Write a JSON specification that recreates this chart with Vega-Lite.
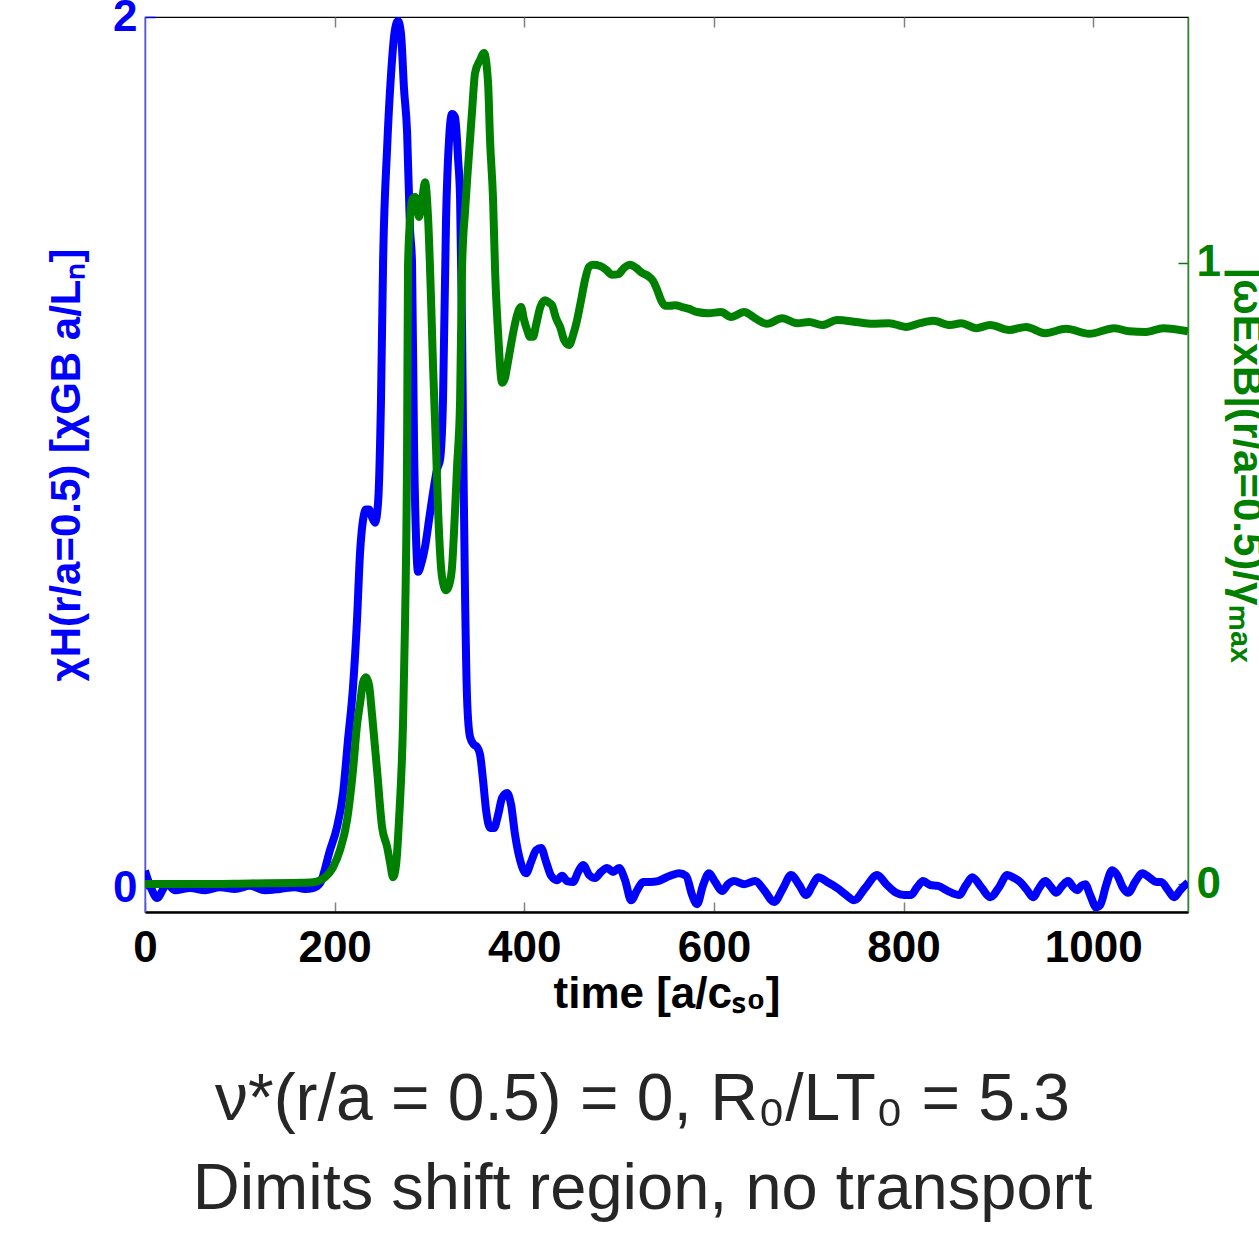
{
  "$schema": "https://vega.github.io/schema/vega-lite/v6.json",
  "width": 1043,
  "height": 895,
  "autosize": {"type": "none"},
  "padding": {"left": 145, "top": 17, "right": 71, "bottom": 321},
  "background": "white",
  "config": {"view": {"stroke": "black", "strokeWidth": 1.2}, "font": "Liberation Sans"},
  "title": {
    "text": "ν*(r/a = 0.5) = 0, R₀/LT₀ = 5.3",
    "subtitle": "Dimits shift region, no transport",
    "orient": "bottom",
    "anchor": "middle",
    "dx": -24,
    "offset": 52,
    "font": "Liberation Sans",
    "fontSize": 66,
    "fontWeight": "normal",
    "color": "#262626",
    "subtitleFont": "Liberation Sans",
    "subtitleFontSize": 65,
    "subtitleColor": "#262626",
    "subtitlePadding": 24
  },
  "datasets": {
    "chi": [
      {"t":0,"v":0.04},{"t":1.1,"v":0.032},{"t":7.4,"v":-0.005},{"t":12.7,"v":-0.023},{"t":23.2,"v":0.009},{"t":31.6,"v":-0.005},{"t":47.5,"v":0},{"t":63.3,"v":-0.005},{"t":79.1,"v":0.002},{"t":94.9,"v":-0.002},{"t":110.8,"v":0.005},{"t":126.6,"v":-0.005},{"t":142.4,"v":-0.002},{"t":158.2,"v":0.002},{"t":168.8,"v":-0.002},{"t":177.2,"v":0.0},{"t":184.6,"v":0.011},{"t":195.1,"v":0.087},{"t":202.5,"v":0.14},{"t":208.9,"v":0.218},{"t":214.1,"v":0.34},{"t":219.4,"v":0.462},{"t":223.6,"v":0.616},{"t":226.8,"v":0.77},{"t":230.0,"v":0.846},{"t":233.1,"v":0.869},{"t":236.3,"v":0.869},{"t":239.5,"v":0.851},{"t":242.6,"v":0.839},{"t":245.8,"v":0.885},{"t":248.9,"v":1.122},{"t":251.1,"v":1.437},{"t":255.3,"v":1.697},{"t":259.5,"v":1.869},{"t":263.7,"v":1.972},{"t":266.9,"v":1.991},{"t":270.0,"v":1.961},{"t":273.2,"v":1.834},{"t":276.4,"v":1.736},{"t":279.5,"v":1.513},{"t":281.6,"v":1.437},{"t":283.8,"v":1.007},{"t":285.9,"v":0.8},{"t":288.0,"v":0.726},{"t":291.1,"v":0.743},{"t":295.4,"v":0.784},{"t":299.6,"v":0.846},{"t":303.8,"v":0.908},{"t":308.0,"v":0.961},{"t":311.2,"v":0.984},{"t":314.3,"v":1.122},{"t":317.5,"v":1.536},{"t":320.7,"v":1.72},{"t":323.8,"v":1.777},{"t":327.0,"v":1.77},{"t":330.2,"v":1.674},{"t":332.3,"v":1.582},{"t":334.4,"v":1.283},{"t":335.4,"v":1.046},{"t":337.6,"v":0.662},{"t":339.7,"v":0.432},{"t":342.8,"v":0.347},{"t":347.0,"v":0.329},{"t":350.2,"v":0.324},{"t":353.4,"v":0.306},{"t":356.5,"v":0.248},{"t":359.7,"v":0.179},{"t":363.9,"v":0.138},{"t":368.1,"v":0.138},{"t":372.4,"v":0.168},{"t":376.6,"v":0.207},{"t":381.9,"v":0.218},{"t":386.1,"v":0.191},{"t":390.3,"v":0.122},{"t":395.6,"v":0.064},{"t":401.9,"v":0.034},{"t":407.2,"v":0.06},{"t":412.4,"v":0.087},{"t":417.7,"v":0.092},{"t":423.0,"v":0.06},{"t":428.3,"v":0.028},{"t":434.6,"v":0.018},{"t":439.9,"v":0.028},{"t":445.1,"v":0.016},{"t":451.5,"v":0.014},{"t":456.8,"v":0.037},{"t":462.0,"v":0.053},{"t":468.4,"v":0.03},{"t":474.7,"v":0.023},{"t":481.0,"v":0.037},{"t":487.3,"v":0.046},{"t":493.7,"v":0.037},{"t":500.0,"v":0.046},{"t":506.3,"v":0.018},{"t":512.7,"v":-0.028},{"t":519.0,"v":-0.005},{"t":525.3,"v":0.014},{"t":532.7,"v":0.014},{"t":541.1,"v":0.016},{"t":548.5,"v":0.023},{"t":555.9,"v":0.03},{"t":563.3,"v":0.034},{"t":570.7,"v":0.028},{"t":577.0,"v":-0.016},{"t":582.3,"v":-0.037},{"t":588.6,"v":0.007},{"t":594.9,"v":0.034},{"t":601.3,"v":0.014},{"t":608.6,"v":-0.007},{"t":615.0,"v":0.009},{"t":621.3,"v":0.016},{"t":631.9,"v":0.009},{"t":643.5,"v":0.016},{"t":653.0,"v":-0.005},{"t":663.5,"v":-0.032},{"t":673.0,"v":0.0},{"t":681.4,"v":0.03},{"t":689.9,"v":0.007},{"t":697.3,"v":-0.016},{"t":703.6,"v":0.005},{"t":709.9,"v":0.025},{"t":719.4,"v":0.014},{"t":730.0,"v":0.0},{"t":739.5,"v":-0.016},{"t":747.9,"v":-0.028},{"t":759.5,"v":0.0},{"t":772.2,"v":0.03},{"t":781.6,"v":0.009},{"t":792.2,"v":-0.011},{"t":800.6,"v":-0.016},{"t":808.0,"v":-0.016},{"t":814.3,"v":0.002},{"t":820.7,"v":0.016},{"t":828.1,"v":0.007},{"t":836.5,"v":0.005},{"t":847.0,"v":-0.007},{"t":858.6,"v":-0.016},{"t":866.0,"v":0.007},{"t":872.4,"v":0.025},{"t":881.9,"v":0.002},{"t":891.4,"v":-0.021},{"t":900.8,"v":0.002},{"t":909.3,"v":0.03},{"t":916.7,"v":0.023},{"t":923.0,"v":0.014},{"t":930.4,"v":-0.005},{"t":936.7,"v":-0.021},{"t":943.0,"v":0.0},{"t":949.4,"v":0.016},{"t":955.7,"v":0.002},{"t":961.0,"v":-0.011},{"t":967.3,"v":0.005},{"t":973.6,"v":0.016},{"t":978.9,"v":0.002},{"t":983.1,"v":-0.005},{"t":987.3,"v":0.005},{"t":991.6,"v":0.009},{"t":996.8,"v":-0.016},{"t":1003.2,"v":-0.044},{"t":1007.4,"v":-0.039},{"t":1013.7,"v":0.007},{"t":1020.0,"v":0.041},{"t":1025.3,"v":0.03},{"t":1031.6,"v":0.0},{"t":1036.9,"v":-0.011},{"t":1044.3,"v":0.014},{"t":1051.7,"v":0.034},{"t":1060.1,"v":0.023},{"t":1066.5,"v":0.014},{"t":1071.7,"v":0.014},{"t":1079.1,"v":-0.005},{"t":1085.4,"v":-0.021},{"t":1091.8,"v":-0.005},{"t":1098.1,"v":0.009},{"t":1100,"v":0.012}
    ],
    "omega": [
      {"t":0,"v":0.0},{"t":58,"v":0.0},{"t":110.8,"v":0.001},{"t":163.5,"v":0.002},{"t":177.2,"v":0.003},{"t":184.6,"v":0.006},{"t":189.9,"v":0.011},{"t":198.3,"v":0.027},{"t":205.7,"v":0.055},{"t":213.1,"v":0.103},{"t":219.4,"v":0.184},{"t":223.6,"v":0.256},{"t":226.8,"v":0.291},{"t":230.0,"v":0.325},{"t":233.1,"v":0.333},{"t":236.3,"v":0.32},{"t":239.5,"v":0.272},{"t":244.7,"v":0.184},{"t":250.0,"v":0.092},{"t":255.3,"v":0.06},{"t":258.4,"v":0.035},{"t":261.6,"v":0.011},{"t":264.8,"v":0.031},{"t":267.9,"v":0.103},{"t":272.2,"v":0.264},{"t":274.3,"v":0.425},{"t":276.4,"v":0.699},{"t":277.4,"v":0.994},{"t":279.5,"v":1.069},{"t":281.6,"v":1.101},{"t":284.8,"v":1.106},{"t":286.9,"v":1.093},{"t":289.0,"v":1.074},{"t":292.2,"v":1.101},{"t":295.4,"v":1.13},{"t":298.5,"v":1.074},{"t":301.7,"v":0.94},{"t":303.8,"v":0.833},{"t":307.0,"v":0.699},{"t":309.1,"v":0.602},{"t":313.3,"v":0.494},{"t":317.5,"v":0.473},{"t":320.7,"v":0.481},{"t":323.8,"v":0.51},{"t":327.0,"v":0.602},{"t":329.1,"v":0.671},{"t":332.3,"v":0.779},{"t":334.4,"v":0.994},{"t":337.6,"v":1.085},{"t":340.7,"v":1.155},{"t":345.0,"v":1.246},{"t":348.1,"v":1.306},{"t":353.4,"v":1.327},{"t":357.6,"v":1.338},{"t":361.8,"v":1.29},{"t":363.9,"v":1.198},{"t":367.1,"v":1.101},{"t":369.2,"v":0.989},{"t":372.4,"v":0.887},{"t":376.6,"v":0.807},{"t":379.7,"v":0.815},{"t":381.9,"v":0.833},{"t":385.0,"v":0.86},{"t":388.2,"v":0.887},{"t":392.4,"v":0.916},{"t":396.6,"v":0.929},{"t":399.8,"v":0.908},{"t":403.0,"v":0.892},{"t":406.1,"v":0.881},{"t":409.3,"v":0.881},{"t":412.4,"v":0.9},{"t":416.7,"v":0.928},{"t":421.9,"v":0.94},{"t":426.2,"v":0.936},{"t":429.3,"v":0.932},{"t":433.5,"v":0.911},{"t":437.8,"v":0.897},{"t":442.0,"v":0.876},{"t":447.3,"v":0.868},{"t":451.5,"v":0.884},{"t":455.7,"v":0.908},{"t":459.9,"v":0.94},{"t":464.1,"v":0.973},{"t":468.4,"v":0.994},{"t":472.6,"v":0.997},{"t":480.0,"v":0.995},{"t":486.3,"v":0.989},{"t":492.6,"v":0.981},{"t":499.0,"v":0.982},{"t":505.3,"v":0.992},{"t":511.6,"v":0.997},{"t":517.9,"v":0.992},{"t":524.3,"v":0.984},{"t":530.6,"v":0.979},{"t":535.9,"v":0.971},{"t":540.1,"v":0.957},{"t":544.3,"v":0.94},{"t":548.5,"v":0.931},{"t":553.8,"v":0.931},{"t":559.1,"v":0.932},{"t":566.5,"v":0.929},{"t":573.8,"v":0.926},{"t":582.3,"v":0.921},{"t":593.9,"v":0.919},{"t":607.6,"v":0.921},{"t":618.1,"v":0.913},{"t":631.9,"v":0.921},{"t":643.5,"v":0.911},{"t":656.1,"v":0.902},{"t":671.9,"v":0.911},{"t":687.8,"v":0.903},{"t":700.4,"v":0.905},{"t":714.1,"v":0.9},{"t":730.0,"v":0.908},{"t":750.0,"v":0.905},{"t":766.9,"v":0.902},{"t":784.8,"v":0.903},{"t":802.7,"v":0.897},{"t":817.5,"v":0.903},{"t":831.2,"v":0.907},{"t":849.2,"v":0.9},{"t":860.8,"v":0.903},{"t":876.6,"v":0.895},{"t":891.4,"v":0.9},{"t":911.4,"v":0.892},{"t":929.3,"v":0.897},{"t":949.4,"v":0.887},{"t":971.5,"v":0.894},{"t":995.8,"v":0.886},{"t":1022.2,"v":0.895},{"t":1038.0,"v":0.89},{"t":1055.9,"v":0.889},{"t":1073.8,"v":0.895},{"t":1100,"v":0.89}
    ]
  },
  "layer": [
    {
      "data": {"name": "chi"},
      "mark": {"type": "line", "color": "#0000FF", "strokeWidth": 8, "interpolate": "monotone", "clip": true},
      "encoding": {
        "x": {
          "field": "t", "type": "quantitative",
          "scale": {"domain": [0, 1100], "nice": false, "zero": false},
          "axis": {
            "orient": "bottom",
            "values": [0, 200, 400, 600, 800, 1000],
            "format": "d",
            "labelFlush": false,
            "grid": false,
            "tickSize": -10, "tickColor": "#808080", "tickWidth": 1.5,
            "domainColor": "black", "domainWidth": 2.5,
            "labelFont": "Liberation Sans", "labelFontWeight": "bold", "labelFontSize": 44, "labelColor": "black",
            "labelPadding": 24,
            "title": "time [a/cₛ₀]",
            "titleFont": "Liberation Sans", "titleFontWeight": "bold", "titleFontSize": 44, "titleColor": "black",
            "titlePadding": 2
          }
        },
        "y": {
          "field": "v", "type": "quantitative",
          "scale": {"domain": [-0.055, 2], "nice": false, "zero": false},
          "axis": {
            "orient": "left",
            "values": [0, 1, 2],
            "format": "d",
            "labelFlush": false,
            "grid": false,
            "tickSize": -10, "tickColor": "#0000FF", "tickWidth": 1.5,
            "domainColor": "#5050FF", "domainWidth": 1.5,
            "labelFont": "Liberation Sans", "labelFontWeight": "bold", "labelFontSize": 44, "labelColor": "#0000FF",
            "labelPadding": 18,
            "title": "χH(r/a=0.5) [χGB a/Lₙ]",
            "titleFont": "Liberation Sans", "titleFontWeight": "bold", "titleFontSize": 42, "titleColor": "#0000FF",
            "titlePadding": 24
          }
        }
      }
    },
    {
      "layer": [
        {
          "mark": {"type": "rule", "color": "#808080", "strokeWidth": 5, "strokeDash": [11, 12]},
          "encoding": {
            "y": {"datum": 1, "type": "quantitative", "title": "|ωExB|(r/a=0.5)/γₘₐₓ"}
          }
        },
        {
          "data": {"name": "omega"},
          "mark": {"type": "line", "color": "#008000", "strokeWidth": 8, "interpolate": "monotone", "clip": true},
          "encoding": {
            "x": {
              "field": "t", "type": "quantitative",
              "axis": {
                "orient": "top",
                "values": [200, 400, 600, 800, 1000],
                "labels": false,
                "domain": false,
                "grid": false,
                "title": null,
                "tickSize": -10, "tickColor": "#808080", "tickWidth": 1.5
              }
            },
            "y": {
              "field": "v", "type": "quantitative",
              "scale": {"domain": [-0.045, 1.396], "nice": false, "zero": false},
              "axis": {
                "orient": "right",
                "values": [0, 1],
                "format": "d",
                "labelFlush": false,
                "grid": false,
                "tickSize": -10, "tickColor": "#008000", "tickWidth": 1.5,
                "domainColor": "#2E8B2E", "domainWidth": 1.5,
                "labelFont": "Liberation Sans", "labelFontWeight": "bold", "labelFontSize": 44, "labelColor": "#008000",
                "labelPadding": 18,
                "title": "|ωExB|(r/a=0.5)/γₘₐₓ",
                "titleFont": "Liberation Sans", "titleFontWeight": "bold", "titleFontSize": 42, "titleColor": "#008000",
                "titlePadding": 4
              }
            }
          }
        }
      ]
    }
  ],
  "resolve": {"scale": {"y": "independent"}, "axis": {"x": "independent"}}
}
